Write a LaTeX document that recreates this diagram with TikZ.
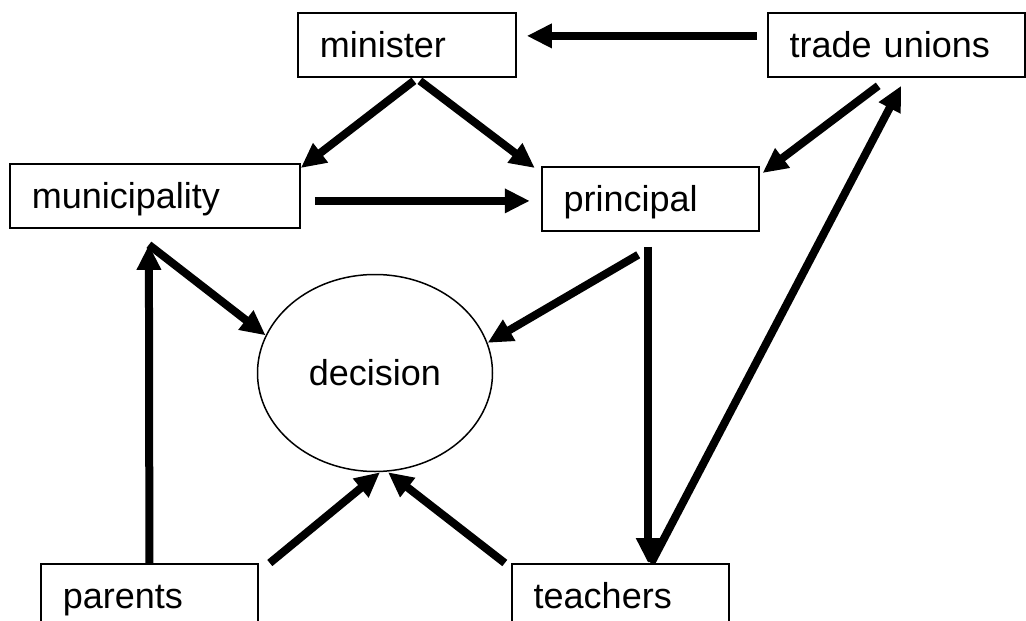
\documentclass[tikz,border=0pt]{standalone}
\usepackage{fontspec}
\setmainfont{Liberation Sans}
\usetikzlibrary{shapes.geometric, arrows.meta, positioning}
\begin{document}
\begin{tikzpicture}[x=1pt, y=-1pt,
    box/.style={rectangle, draw=black, line width=1.8pt, minimum height=64pt, inner xsep=22pt, inner ysep=0pt, text height=26pt, text depth=0pt, align=left, font=\fontsize{36}{40}\selectfont},
    oval/.style={ellipse, draw=black, line width=1.5pt, minimum width=235pt, minimum height=197pt, inner sep=0pt, font=\fontsize{36}{40}\selectfont},
    arrow/.style={-{Triangle[length=25pt, width=23pt]}, line width=8pt}
]
\useasboundingbox (0,0) rectangle (1026,621);

% Actors
\node[box, text width=174pt, anchor=north west] (minister) at (297,12) {minister};
\node[box, text width=213pt, right=250pt of minister] (unions) {trade unions};
\node[box, text width=246pt, anchor=north west] (muni) at (9,163) {municipality};
\node[box, text width=173pt, right=240pt of muni, yshift=-3pt] (principal) {principal};
\node[box, text width=173pt, anchor=north west] (parents) at (40,563) {parents};
\node[box, text width=173pt, right=252pt of parents] (teachers) {teachers};

% Decision
\node[oval] (decision) at (375,373) {decision};

% Arrows between actors
\draw[arrow] ([xshift=-10pt, yshift=9pt]unions.west) -- ([xshift=10pt, yshift=9pt]minister.east);
\draw[arrow] ([xshift=7pt, yshift=-3pt]minister.south) -- ([yshift=-5pt]muni.north east);
\draw[arrow] ([xshift=13pt, yshift=-3pt]minister.south) -- ([xshift=-6pt, yshift=-2pt]principal.north west);
\draw[arrow] ([xshift=-18pt, yshift=-8pt]unions.south) -- ([xshift=3pt, yshift=-7pt]principal.north east);
\draw[arrow] ([xshift=31pt]teachers.north) -- ([xshift=5pt, yshift=-8pt]unions.south);
\draw[arrow] ([xshift=-2pt, yshift=-15pt]principal.south) -- ([xshift=28pt]teachers.north);
\draw[arrow] ([xshift=14pt, yshift=-5pt]muni.east) -- ([xshift=-11pt, yshift=-2pt]principal.west);
\draw[arrow] (parents.north) -- ([xshift=-6pt, yshift=-16pt]muni.south);

% Arrows into the decision
\draw[arrow] ([xshift=-6pt, yshift=-16pt]muni.south) -- (decision.161);
\draw[arrow] ([xshift=-12pt, yshift=-23pt]principal.south) -- (decision.15);
\draw[arrow] ([xshift=11pt]parents.north east) -- ([xshift=5pt]decision.south);
\draw[arrow] ([xshift=-6pt]teachers.north west) -- ([xshift=13pt]decision.south);

\end{tikzpicture}
\end{document}
